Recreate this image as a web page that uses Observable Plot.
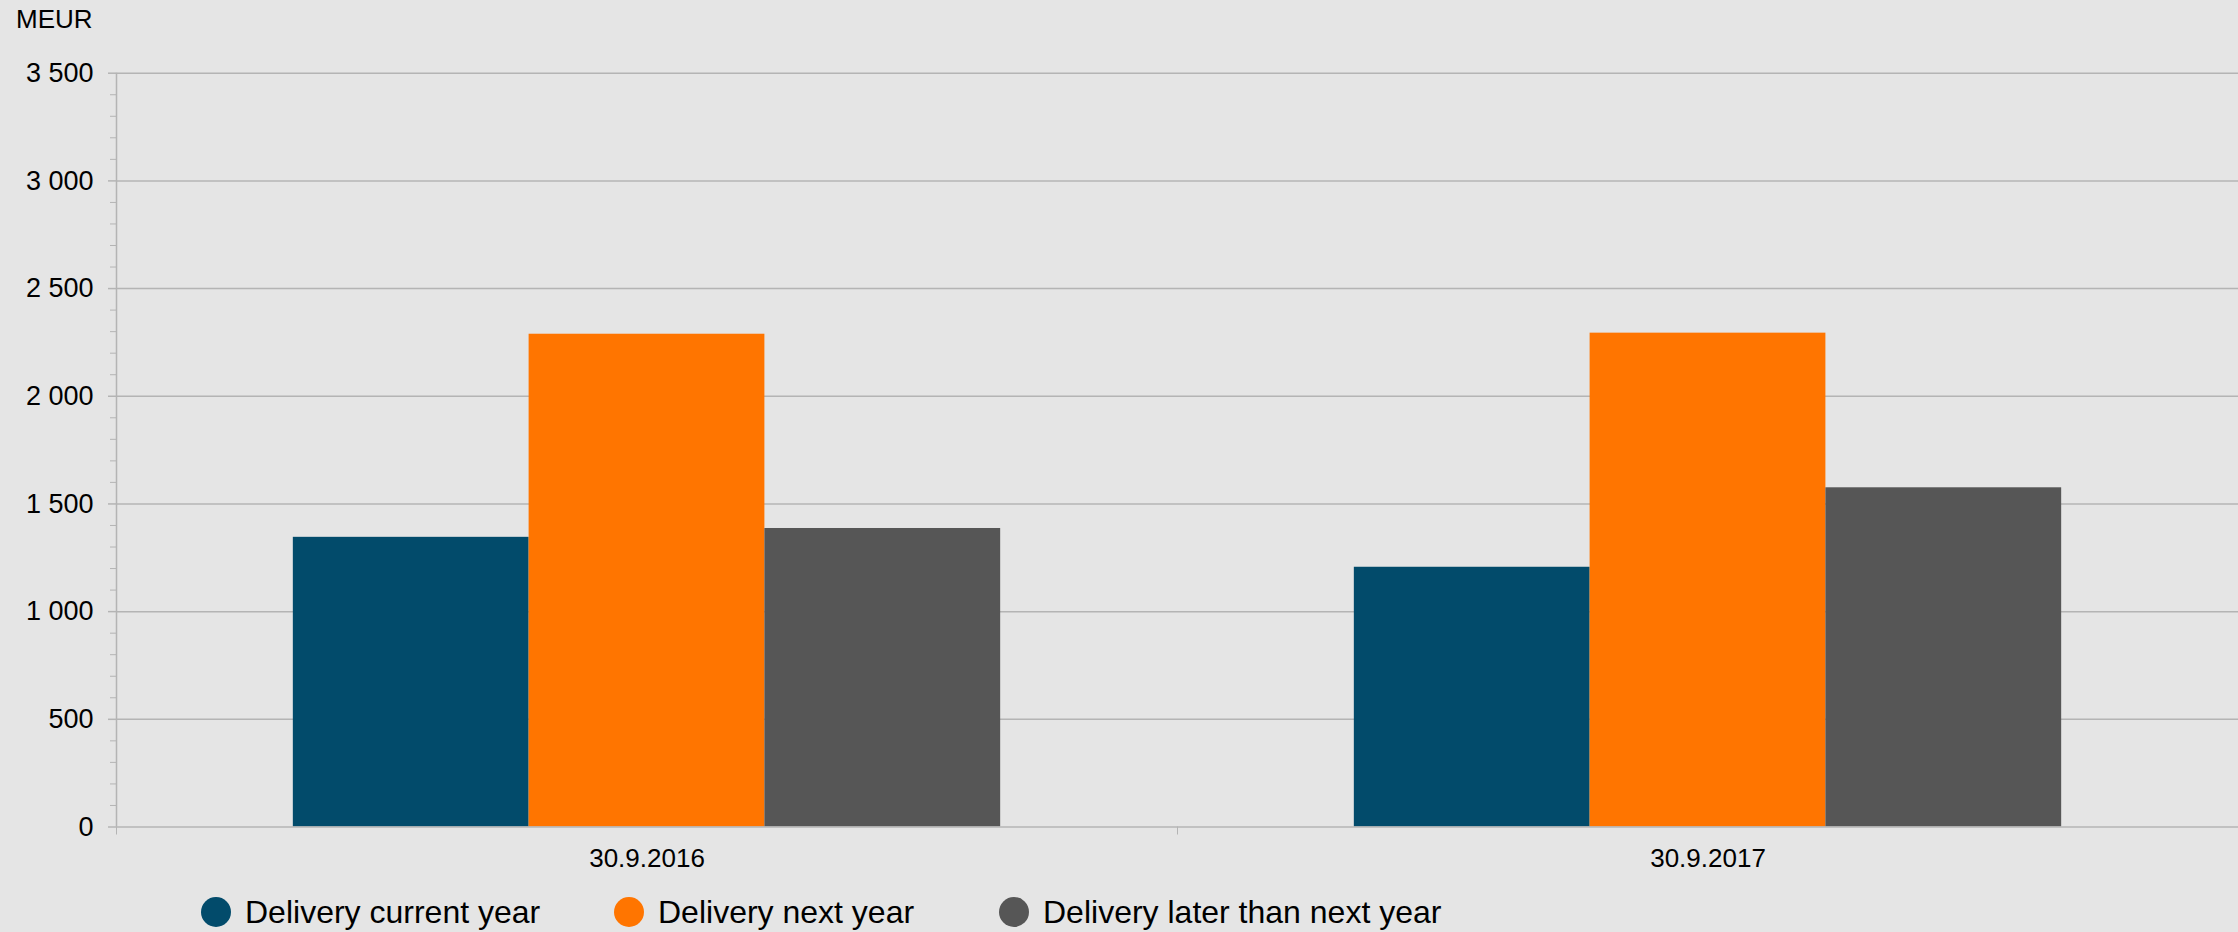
<!DOCTYPE html>
<html>
<head>
<meta charset="utf-8">
<script src="https://cdn.jsdelivr.net/npm/d3@7"></script>
<script src="https://cdn.jsdelivr.net/npm/@observablehq/plot@0.6"></script>
<style>
  html, body { margin: 0; padding: 0; background: #e5e5e5; }
  #wrap { position: relative; width: 2238px; height: 932px; background: #e5e5e5; font-family: "Liberation Sans", Arial, sans-serif; color: #000; overflow: hidden; }
  #unit { position: absolute; left: 16px; top: 6px; font-size: 26px; line-height: 26px; }
  #chart { position: absolute; left: 0; top: 0; }
  #legend { position: absolute; left: 0; top: 896px; height: 32px; width: 2238px; }
  .item { position: absolute; top: 0; display: flex; align-items: center; height: 32px; font-size: 32px; }
  .dot { width: 30px; height: 30px; border-radius: 50%; margin-right: 14px; flex: none; }
</style>
</head>
<body>
<div id="wrap">
  <div id="chart"></div>
  <div id="unit">MEUR</div>
  <div id="legend"></div>
</div>
<script>
// ---- data ----
const dates = ["30.9.2016", "30.9.2017"];
const seriesNames = ["Delivery current year", "Delivery next year", "Delivery later than next year"];
const currentYear = [1345, 1206];
const nextYear = [2288, 2293];
const laterThanNextYear = [1386, 1575];
const colors = ["#024b6b", "#ff7500", "#565656"];
const yMajorTicks = [0, 500, 1000, 1500, 2000, 2500, 3000, 3500];
const yMinorTicks = d3.range(0, 3501, 100).filter(v => v % 500 !== 0);
const legendLeft = [201, 614, 999];

// ---- build table ----
const seriesValues = [currentYear, nextYear, laterThanNextYear];
const rows = dates.flatMap((date, di) =>
  seriesValues.map((vals, si) => ({date, di, series: seriesNames[si], si, value: vals[di]}))
);

const groupPad = 1 / 6;            // empty space at each side of a group (fraction of category)
const barStep = (1 - 2 * groupPad) / seriesNames.length;
const fmt = v => d3.format(",")(v).replace(/,/g, " ");
const axisColor = "#b4b4b4";

const chart = Plot.plot({
  width: 2238,
  height: 880,
  marginLeft: 116,
  marginRight: 0,
  marginTop: 72.7,
  marginBottom: 53.5,
  style: {background: "transparent", fontFamily: "'Liberation Sans', Arial, sans-serif", fontSize: "26px", color: "#000", overflow: "visible"},
  x: {domain: [0, dates.length], axis: null},
  y: {domain: [0, 3500], axis: null},
  color: {domain: seriesNames, range: colors},
  marks: [
    Plot.ruleY(yMajorTicks.filter(v => v > 0), {stroke: axisColor, strokeWidth: 1.5}),
    Plot.axisY(yMinorTicks, {tickSize: 6, tickFormat: () => "", stroke: axisColor, strokeWidth: 1, label: null}),
    Plot.axisY(yMajorTicks, {tickSize: 8, tickPadding: 15, tickFormat: fmt, stroke: axisColor, strokeWidth: 1.5, fill: "#000", fontSize: 27, label: null}),
    Plot.rectY(rows, {
      x1: d => d.di + groupPad + d.si * barStep,
      x2: d => d.di + groupPad + (d.si + 1) * barStep,
      y1: 0,
      y2: "value",
      fill: "series"
    }),
    Plot.ruleX([0], {stroke: axisColor, strokeWidth: 1.5}),
    Plot.ruleY([0], {stroke: axisColor, strokeWidth: 1.5}),
    Plot.axisX(d3.range(0, dates.length + 1), {tickSize: 8, tickFormat: () => "", stroke: axisColor, strokeWidth: 1, label: null}),
    Plot.axisX(dates.map((d, i) => i + 0.5), {tickSize: 0, tickPadding: 21.5, tickFormat: v => dates[Math.floor(v)], fill: "#000", fontSize: 26, label: null})
  ]
});
document.getElementById("chart").appendChild(chart);

// ---- legend ----
const legend = document.getElementById("legend");
seriesNames.forEach((name, i) => {
  const item = document.createElement("div");
  item.className = "item";
  item.style.left = legendLeft[i] + "px";
  const dot = document.createElement("span");
  dot.className = "dot";
  dot.style.background = colors[i];
  const label = document.createElement("span");
  label.textContent = name;
  item.appendChild(dot);
  item.appendChild(label);
  legend.appendChild(item);
});
</script>
</body>
</html>
